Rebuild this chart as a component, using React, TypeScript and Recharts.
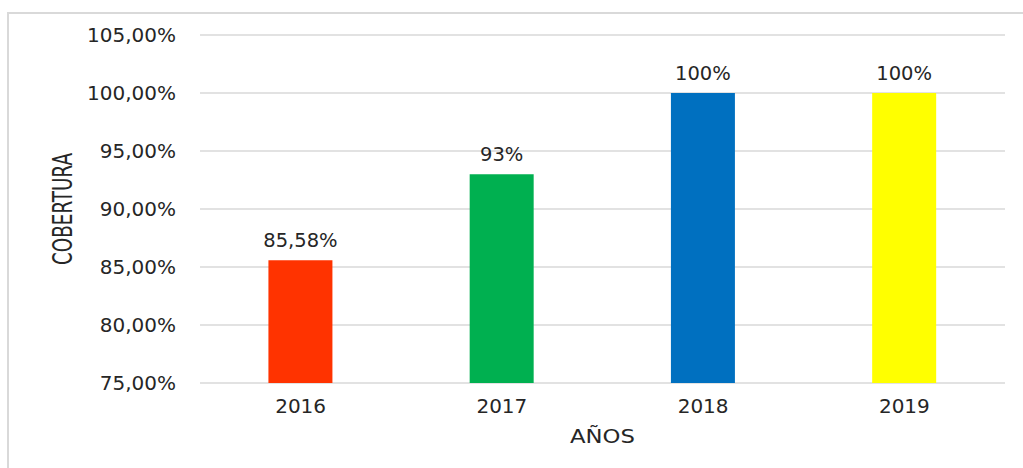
import React from 'react'
import { BarChart, Bar, XAxis, YAxis, CartesianGrid, Cell, LabelList, Label } from 'recharts'

const years: string[] = ['2016', '2017', '2018', '2019']
const coverage: number[] = [85.58, 93, 100, 100]
const valueLabels: string[] = ['85,58%', '93%', '100%', '100%']
const yTicks: number[] = [75, 80, 85, 90, 95, 100, 105]
const barColors: string[] = ['#FF3300', '#00B050', '#0070C0', '#FFFF00']

const chartData = years.map((year, i) => ({
    year,
    value: coverage[i],
    label: valueLabels[i]
}))

const font = '"DejaVu Sans", Verdana, sans-serif'
const textColor = '#262626'

const formatTick = (v: number) => `${v.toFixed(2).replace('.', ',')}%`

export default function App() {
    return (
        <div style={{ position: 'absolute', left: 0, top: 0, width: 1023, height: 468, overflow: 'hidden', background: '#fff' }}>
            <div
                style={{
                    position: 'absolute',
                    left: 7,
                    top: 12,
                    width: 1100,
                    height: 600,
                    border: '2px solid #d9d9d9'
                }}
            />
            <div style={{ position: 'absolute', left: 0, top: 0 }}>
                <BarChart
                    width={1023}
                    height={468}
                    data={chartData}
                    margin={{ top: 35, right: 18, left: 10, bottom: 0 }}
                    barCategoryGap="34%"
                >
                    <CartesianGrid vertical={false} stroke="#d9d9d9" strokeWidth={1.5} />
                    <XAxis
                        dataKey="year"
                        axisLine={false}
                        tickLine={false}
                        tickSize={0}
                        tickMargin={16}
                        height={85}
                        tick={{ fill: textColor, fontSize: 20, fontFamily: font }}
                    >
                        <Label
                            content={() => (
                                <text
                                    x={602.5}
                                    y={443}
                                    textAnchor="middle"
                                    fill={textColor}
                                    fontSize={19}
                                    fontFamily={font}
                                    textLength={65}
                                    lengthAdjust="spacingAndGlyphs"
                                >
                                    AÑOS
                                </text>
                            )}
                        />
                    </XAxis>
                    <YAxis
                        domain={[75, 105]}
                        ticks={yTicks}
                        interval={0}
                        axisLine={false}
                        tickLine={false}
                        tickSize={0}
                        tickMargin={24}
                        width={190}
                        tickFormatter={formatTick}
                        tick={{ fill: textColor, fontSize: 20, fontFamily: font }}
                    >
                        <Label
                            content={() => (
                                <text
                                    x={72}
                                    y={209}
                                    textAnchor="middle"
                                    transform="rotate(-90, 72, 209)"
                                    fill={textColor}
                                    fontSize={26}
                                    fontFamily={font}
                                    textLength={112}
                                    lengthAdjust="spacingAndGlyphs"
                                >
                                    COBERTURA
                                </text>
                            )}
                        />
                    </YAxis>
                    <Bar dataKey="value" isAnimationActive={false}>
                        {chartData.map((d, i) => (
                            <Cell key={d.year} fill={barColors[i]} />
                        ))}
                        <LabelList
                            dataKey="label"
                            position="top"
                            offset={13}
                            fill={textColor}
                            fontSize={19.5}
                            fontFamily={font}
                        />
                    </Bar>
                </BarChart>
            </div>
        </div>
    )
}
